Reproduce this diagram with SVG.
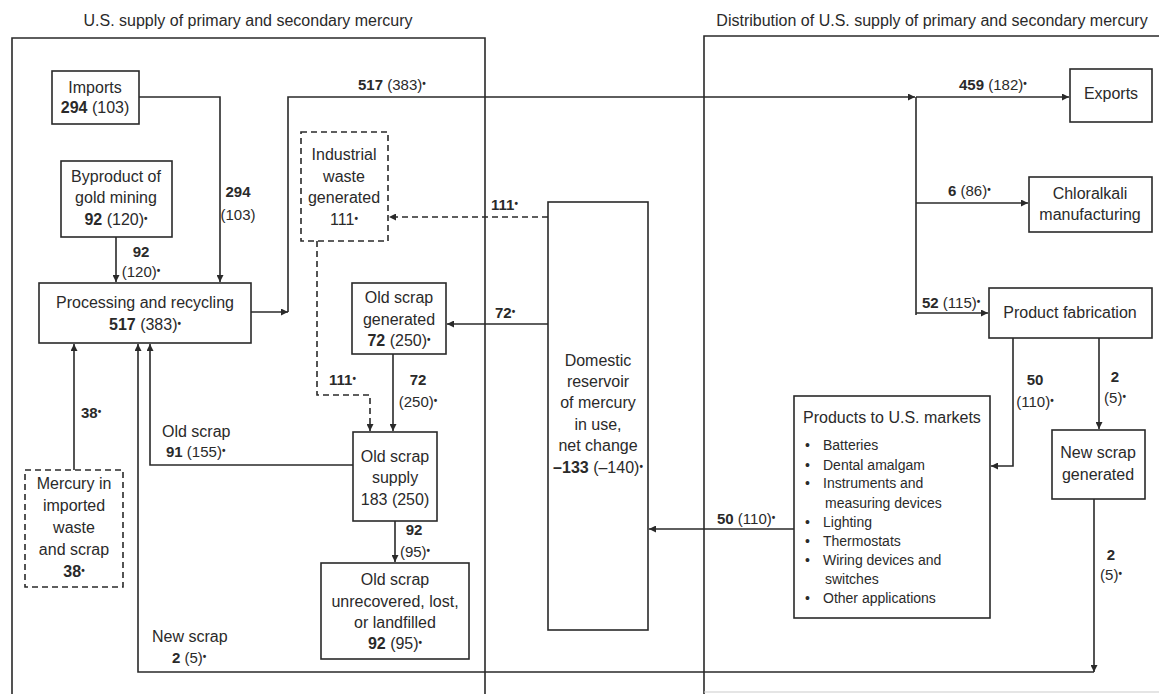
<svg xmlns="http://www.w3.org/2000/svg" width="1159" height="694" viewBox="0 0 1159 694">
<style>
text{font-family:"Liberation Sans",Arial,sans-serif;fill:#2a2a2a}
.t{font-size:16px}
.n{font-size:16px;text-anchor:middle}
.l{font-size:15px}
.lc{font-size:15px;text-anchor:middle}
.s{font-size:14px}
.b{font-weight:bold}
.u{font-size:10px;baseline-shift:35%;font-weight:bold}
.box{fill:#fff;stroke:#2a2a2a;stroke-width:1.6}
.dbox{fill:#fff;stroke:#2a2a2a;stroke-width:1.6;stroke-dasharray:6,4}
.c{fill:none;stroke:#2a2a2a;stroke-width:1.6}
.d{fill:none;stroke:#2a2a2a;stroke-width:1.6;stroke-dasharray:6,4}
.frame{fill:none;stroke:#2a2a2a;stroke-width:1.6}
</style>
<defs>
<marker id="a" viewBox="0 0 10 10" refX="10" refY="5" markerWidth="9" markerHeight="7" markerUnits="userSpaceOnUse" orient="auto">
<path d="M0,0 L10,5 L0,10 z" fill="#2a2a2a"/>
</marker>
</defs>
<rect width="1159" height="694" fill="#fff"/>

<g id="frames">
<text class="t" x="248" y="26" text-anchor="middle">U.S. supply of primary and secondary mercury</text>
<path class="frame" d="M12,694 V38 H485 V694"/>
<text class="t" x="932" y="26" text-anchor="middle">Distribution of U.S. supply of primary and secondary mercury</text>
<path class="frame" d="M704,694 V36 H1159"/>
<path d="M704,692 H1159" stroke="#ccc" stroke-width="1.2" fill="none"/>
</g>

<g id="connectors">
<path class="c" d="M139,97 H220 V282" marker-end="url(#a)"/>
<path class="c" d="M116,237 V282" marker-end="url(#a)"/>
<path class="c" d="M251,312 H288" marker-end="url(#a)"/>
<path class="c" d="M288,312 V97 H915" marker-end="url(#a)"/>
<path class="c" d="M916,97 V315"/>
<path class="c" d="M916,97 H1069" marker-end="url(#a)"/>
<path class="c" d="M916,203 H1028" marker-end="url(#a)"/>
<path class="c" d="M916,313 H988" marker-end="url(#a)"/>
<path class="c" d="M1013,338 V466 H991" marker-end="url(#a)"/>
<path class="c" d="M1099,338 V429" marker-end="url(#a)"/>
<path class="c" d="M1094,499 V672" marker-end="url(#a)"/>
<path class="c" d="M1094,672 H138 V344" marker-end="url(#a)"/>
<path class="c" d="M794,529 H649" marker-end="url(#a)"/>
<path class="d" d="M548,217 H389" marker-end="url(#a)"/>
<path class="c" d="M548,324 H447" marker-end="url(#a)"/>
<path class="d" d="M317,241 V395 H370 V431" marker-end="url(#a)"/>
<path class="c" d="M393,354 V431" marker-end="url(#a)"/>
<path class="c" d="M353,465 H150 V344" marker-end="url(#a)"/>
<path class="c" d="M395,521 V562" marker-end="url(#a)"/>
<path class="c" d="M74,470 V344" marker-end="url(#a)"/>

<text class="lc" x="238" y="197"><tspan class="b">294</tspan></text>
<text class="lc" x="238" y="220">(103)</text>
<text class="lc" x="141" y="257"><tspan class="b">92</tspan></text>
<text class="lc" x="141" y="277">(120)<tspan class="u">•</tspan></text>
<text class="l" x="358" y="90"><tspan class="b">517</tspan> (383)<tspan class="u">•</tspan></text>
<text class="l" x="959" y="90"><tspan class="b">459</tspan> (182)<tspan class="u">•</tspan></text>
<text class="l" x="948" y="196"><tspan class="b">6</tspan> (86)<tspan class="u">•</tspan></text>
<text class="l" x="922" y="308"><tspan class="b">52</tspan> (115)<tspan class="u">•</tspan></text>
<text class="lc" x="1035" y="385"><tspan class="b">50</tspan></text>
<text class="lc" x="1035" y="407">(110)<tspan class="u">•</tspan></text>
<text class="lc" x="1115" y="382"><tspan class="b">2</tspan></text>
<text class="lc" x="1115" y="403">(5)<tspan class="u">•</tspan></text>
<text class="lc" x="1111" y="560"><tspan class="b">2</tspan></text>
<text class="lc" x="1111" y="580">(5)<tspan class="u">•</tspan></text>
<text class="l" x="717" y="524"><tspan class="b">50</tspan> (110)<tspan class="u">•</tspan></text>
<text class="l b" x="491" y="210">111<tspan class="u">•</tspan></text>
<text class="l b" x="495" y="318">72<tspan class="u">•</tspan></text>
<text class="l b" x="329" y="385">111<tspan class="u">•</tspan></text>
<text class="lc" x="418" y="385"><tspan class="b">72</tspan></text>
<text class="lc" x="418" y="407">(250)<tspan class="u">•</tspan></text>
<text class="lc" x="414" y="535"><tspan class="b">92</tspan></text>
<text class="lc" x="415" y="557">(95)<tspan class="u">•</tspan></text>
<text class="l b" x="81" y="418">38<tspan class="u">•</tspan></text>
<text class="t" x="162" y="437">Old scrap</text>
<text class="l" x="166" y="457"><tspan class="b">91</tspan> (155)<tspan class="u">•</tspan></text>
<text class="t" x="152" y="642">New scrap</text>
<text class="l" x="172" y="663"><tspan class="b">2</tspan> (5)<tspan class="u">•</tspan></text>
</g>

<g id="imports">
<rect class="box" x="52" y="71" width="87" height="53"/>
<text class="n" x="95" y="93">Imports</text>
<text class="n" x="95" y="113"><tspan class="b">294</tspan> (103)</text>
</g>

<g id="byproduct">
<rect class="box" x="61" y="161" width="111" height="76"/>
<text class="n" x="116" y="182">Byproduct of</text>
<text class="n" x="116" y="203">gold mining</text>
<text class="n" x="116" y="225"><tspan class="b">92</tspan> (120)<tspan class="u">•</tspan></text>
</g>

<g id="processing">
<rect class="box" x="39" y="283" width="212" height="60"/>
<text class="n" x="145" y="308">Processing  and recycling</text>
<text class="n" x="145" y="330"><tspan class="b">517</tspan> (383)<tspan class="u">•</tspan></text>
</g>

<g id="industrial-waste">
<rect class="dbox" x="301" y="132" width="87" height="109"/>
<text class="n" x="344" y="160">Industrial</text>
<text class="n" x="344" y="182">waste</text>
<text class="n" x="344" y="203">generated</text>
<text class="n" x="344" y="225">111<tspan class="u">•</tspan></text>
</g>

<g id="old-scrap-generated">
<rect class="box" x="352" y="283" width="94" height="71"/>
<text class="n" x="399" y="303">Old scrap</text>
<text class="n" x="399" y="325">generated</text>
<text class="n" x="399" y="346"><tspan class="b">72</tspan> (250)<tspan class="u">•</tspan></text>
</g>

<g id="old-scrap-supply">
<rect class="box" x="353" y="432" width="84" height="89"/>
<text class="n" x="395" y="462">Old scrap</text>
<text class="n" x="395" y="483">supply</text>
<text class="n" x="395" y="505">183 (250)</text>
</g>

<g id="old-scrap-unrecovered">
<rect class="box" x="321" y="563" width="148" height="96"/>
<text class="n" x="395" y="585">Old scrap</text>
<text class="n" x="395" y="607">unrecovered, lost,</text>
<text class="n" x="395" y="628">or landfilled</text>
<text class="n" x="395" y="649"><tspan class="b">92</tspan> (95)<tspan class="u">•</tspan></text>
</g>

<g id="imported-waste">
<rect class="dbox" x="25" y="470" width="98" height="117"/>
<text class="n" x="74" y="489">Mercury in</text>
<text class="n" x="74" y="511">imported</text>
<text class="n" x="74" y="533">waste</text>
<text class="n" x="74" y="555">and scrap</text>
<text class="n" x="74" y="577"><tspan class="b">38</tspan><tspan class="u">•</tspan></text>
</g>

<g id="domestic-reservoir">
<rect class="box" x="548" y="202" width="100" height="428"/>
<text class="n" x="598" y="366">Domestic</text>
<text class="n" x="598" y="387">reservoir</text>
<text class="n" x="598" y="408">of mercury</text>
<text class="n" x="598" y="430">in use,</text>
<text class="n" x="598" y="451">net change</text>
<text class="n" x="598" y="473"><tspan class="b">–133</tspan> (–140)<tspan class="u">•</tspan></text>
</g>

<g id="exports">
<rect class="box" x="1070" y="69" width="82" height="53"/>
<text class="n" x="1111" y="99">Exports</text>
</g>

<g id="chloralkali">
<rect class="box" x="1029" y="177" width="123" height="55"/>
<text class="n" x="1090" y="199">Chloralkali</text>
<text class="n" x="1090" y="220">manufacturing</text>
</g>

<g id="product-fabrication">
<rect class="box" x="989" y="288" width="163" height="50"/>
<text class="n" x="1070" y="318">Product fabrication</text>
</g>

<g id="new-scrap-generated">
<rect class="box" x="1052" y="430" width="93" height="69"/>
<text class="n" x="1098" y="458">New scrap</text>
<text class="n" x="1098" y="480">generated</text>
</g>

<g id="products-markets">
<rect class="box" x="794" y="396" width="196" height="222"/>
<text class="t" x="803" y="423">Products to U.S. markets</text>
<text class="s" x="805" y="450">•</text><text class="s" x="823" y="450">Batteries</text>
<text class="s" x="805" y="470">•</text><text class="s" x="823" y="470">Dental amalgam</text>
<text class="s" x="805" y="488">•</text><text class="s" x="823" y="488">Instruments and</text>
<text class="s" x="825" y="508">measuring devices</text>
<text class="s" x="805" y="527">•</text><text class="s" x="823" y="527">Lighting</text>
<text class="s" x="805" y="546">•</text><text class="s" x="823" y="546">Thermostats</text>
<text class="s" x="805" y="565">•</text><text class="s" x="823" y="565">Wiring devices and</text>
<text class="s" x="825" y="584">switches</text>
<text class="s" x="805" y="603">•</text><text class="s" x="823" y="603">Other applications</text>
</g>
</svg>
